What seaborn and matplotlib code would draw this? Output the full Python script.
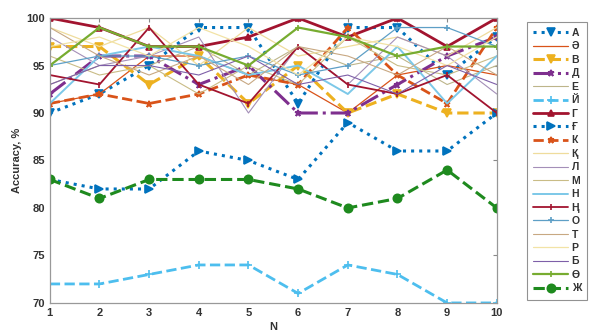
import matplotlib
matplotlib.use('Agg')
import matplotlib.pyplot as plt
import seaborn as sns

# x positions
N = [1, 2, 3, 4, 5, 6, 7, 8, 9, 10]

# accuracy per letter
acc_A = [90, 92, 95, 99, 99, 91, 99, 99, 94, 98]
acc_AE = [91, 92, 96, 96, 94, 93, 90, 94, 95, 94]
acc_V = [97, 97, 93, 96, 91, 95, 90, 92, 90, 90]
acc_D = [92, 96, 96, 93, 95, 90, 90, 93, 96, 98]
acc_E = [93, 95, 95, 97, 94, 97, 95, 96, 93, 95]
acc_J = [72, 72, 73, 74, 74, 71, 74, 73, 70, 70]
acc_G = [100, 99, 97, 97, 98, 100, 98, 100, 97, 100]
acc_GH = [83, 82, 82, 86, 85, 83, 89, 86, 86, 90]
acc_K = [91, 92, 91, 92, 94, 93, 99, 94, 91, 99]
acc_Q = [99, 97, 99, 95, 99, 96, 97, 98, 96, 99]
acc_L = [98, 95, 96, 98, 90, 97, 93, 98, 96, 92]
acc_M = [96, 94, 95, 92, 95, 93, 98, 95, 94, 96]
acc_N = [91, 96, 97, 96, 94, 95, 92, 97, 91, 96]
acc_NG = [94, 93, 99, 93, 91, 97, 93, 92, 94, 90]
acc_O = [95, 96, 96, 95, 96, 94, 95, 99, 99, 97]
acc_T = [99, 96, 94, 96, 93, 97, 96, 94, 97, 94]
acc_R = [97, 98, 96, 99, 97, 94, 98, 97, 95, 98]
acc_B = [93, 95, 95, 94, 96, 93, 94, 92, 95, 93]
acc_OE = [95, 99, 97, 97, 95, 99, 98, 96, 97, 97]
acc_ZH = [83, 81, 83, 83, 83, 82, 80, 81, 84, 80]

labels = ['А', 'Ә', 'В', 'Д', 'Е', 'Й', 'Г', 'Ғ', 'К', 'Қ',
          'Л', 'М', 'Н', 'Ң', 'О', 'Т', 'Р', 'Б', 'Ө', 'Ж']
series = [acc_A, acc_AE, acc_V, acc_D, acc_E, acc_J, acc_G, acc_GH, acc_K, acc_Q,
          acc_L, acc_M, acc_N, acc_NG, acc_O, acc_T, acc_R, acc_B, acc_OE, acc_ZH]

# (color, linestyle, linewidth, marker, markersize)
styles = [
    ('#0072BD', ':', 2.2, 'v', 6),
    ('#D95319', '-', 0.9, None, 0),
    ('#EDB120', '--', 2.2, 'v', 6),
    ('#7E2F8E', '-.', 2.2, '*', 5),
    ('#BDB58A', '-', 0.8, None, 0),
    ('#4DBEEE', '--', 2.0, '+', 6),
    ('#A2142F', '-', 2.0, '^', 4),
    ('#0072BD', ':', 2.2, '>', 6),
    ('#D95319', '--', 2.0, '*', 5),
    ('#EFDC9C', '-', 0.9, None, 0),
    ('#A48FB8', '-', 0.8, None, 0),
    ('#C9BC86', '-', 0.8, None, 0),
    ('#7CC8E8', '-', 1.4, None, 0),
    ('#A2142F', '-', 1.3, '|', 5),
    ('#5E9FC6', '-', 0.9, '+', 5),
    ('#C8A882', '-', 0.8, None, 0),
    ('#F2E3A6', '-', 0.9, None, 0),
    ('#7E5FA8', '-', 0.8, None, 0),
    ('#77AC30', '-', 1.6, '+', 5),
    ('#1E8A1E', '--', 2.2, 'o', 6),
]

sns.set_style('white')
plt.rcParams['font.family'] = ['Liberation Sans', 'DejaVu Sans']

fig = plt.figure(figsize=(6, 3.34), dpi=100)
ax = fig.add_axes([0.083, 0.093, 0.745, 0.853])

for lab, vals, (c, ls, lw, mk, ms) in zip(labels, series, styles):
    sns.lineplot(x=N, y=vals, ax=ax, color=c, linestyle=ls, linewidth=lw,
                 marker=mk, markersize=ms, markeredgecolor=c, markeredgewidth=1.2,
                 label=lab)

ax.set_xlim(1, 10)
ax.set_ylim(70, 100)
ax.set_xticks(N)
ax.set_yticks([70, 75, 80, 85, 90, 95, 100])
ax.tick_params(direction='in', top=True, right=True, length=3, width=0.8,
               colors='#888888', labelcolor='#333333', labelsize=8)
for t in ax.get_xticklabels() + ax.get_yticklabels():
    t.set_fontweight('bold')
for s in ax.spines.values():
    s.set_color('#999999')
    s.set_linewidth(0.9)

ax.set_xlabel('N', fontsize=8, fontweight='bold', color='#333333', labelpad=3)
ax.set_ylabel('Accuracy, %', fontsize=8, fontweight='bold', color='#333333', labelpad=3)

leg = ax.legend(loc='upper left', bbox_to_anchor=(0.878, 0.935), bbox_transform=fig.transFigure,
                fontsize=7.5, frameon=True, fancybox=False, edgecolor='#777777',
                handlelength=3.4, handletextpad=0.3, labelspacing=0.33,
                borderpad=0.6, borderaxespad=0, markerfirst=True)
leg.get_frame().set_linewidth(0.8)
for t in leg.get_texts():
    t.set_fontweight('bold')
    t.set_color('#333333')

fig.savefig('out.png', dpi=100)
